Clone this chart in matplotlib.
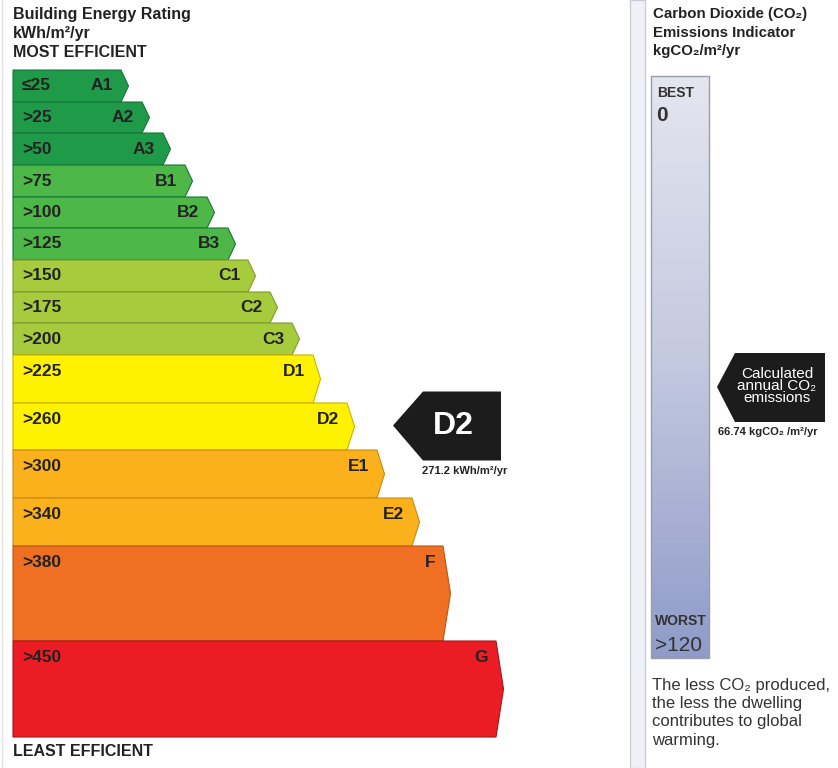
#!/usr/bin/env python3
"""Building Energy Rating (BER) label with CO2 emissions indicator."""

import numpy as np
import matplotlib
matplotlib.use("Agg")
import matplotlib.pyplot as plt
from matplotlib.patches import Polygon, Rectangle

plt.rcParams["font.family"] = ["Liberation Sans", "DejaVu Sans"]

# rating bands, top to bottom
bands = ["A1", "A2", "A3", "B1", "B2", "B3", "C1", "C2", "C3",
         "D1", "D2", "E1", "E2", "F", "G"]
ranges = ["\u226425", ">25", ">50", ">75", ">100", ">125", ">150", ">175", ">200",
          ">225", ">260", ">300", ">340", ">380", ">450"]
bar_end = [121, 142, 163, 185, 207, 228, 248, 270, 292,
           313, 347, 377, 412, 443, 496]
row_edges = [70, 102, 133, 165, 197, 228, 260, 292, 323,
             355, 403, 450, 498, 546, 641, 737]
band_colors = ["#1e9a48", "#1e9a48", "#1e9a48",
               "#4db748", "#4db748", "#4db748",
               "#a6cb3c", "#a6cb3c", "#a6cb3c",
               "#fff200", "#fff200",
               "#fbb11b", "#fbb11b",
               "#ef7023", "#ec1c24"]
edge_colors = ["#17753a"] * 6 + ["#7f9a2e"] * 3 + ["#c9b400"] * 2 + \
              ["#c98a14"] * 2 + ["#b8561a", "#a81419"]

rating = "D2"
energy_value = 271.2
co2_value = 66.74
co2_best = 0
co2_worst = 120

W, H = 838, 768
fig = plt.figure(figsize=(W / 100, H / 100), dpi=100)
ax = fig.add_axes([0, 0, 1, 1])
ax.set_xlim(0, W)
ax.set_ylim(H, 0)
ax.axis("off")

TXT = "#222222"
x0 = 13
tip = 7.5

# left headers
hdr = dict(fontsize=11.5, fontweight="bold", color=TXT)
ax.text(x0, 19, "Building Energy Rating", **hdr)
ax.text(x0, 38, "kWh/m\u00b2/yr", **hdr)
ax.text(x0, 57, "MOST EFFICIENT", **hdr)
ax.text(x0, 756, "LEAST EFFICIENT", **hdr)

# rating arrows
for i, name in enumerate(bands):
    top, bot = row_edges[i], row_edges[i + 1]
    mid = (top + bot) / 2
    xe = bar_end[i]
    poly = Polygon([(x0, top), (xe, top), (xe + tip, mid), (xe, bot), (x0, bot)],
                   closed=True, facecolor=band_colors[i], edgecolor=edge_colors[i],
                   linewidth=0.8)
    ax.add_patch(poly)
    ty = top + min((bot - top) / 2, 16.5)
    ax.text(22, ty, ranges[i], fontsize=12.5, fontweight="bold", color=TXT,
            va="center", ha="left")
    ax.text(xe - 8, ty, name, fontsize=12.5, fontweight="bold", color=TXT,
            va="center", ha="right")

# indicator for this building
ri = bands.index(rating)
cy = (row_edges[ri] + row_edges[ri + 1]) / 2 - 1
ind = Polygon([(393, cy), (423, cy - 34), (501, cy - 34), (501, cy + 35), (423, cy + 35)],
              closed=True, facecolor="#1c1c1c", edgecolor="none")
ax.add_patch(ind)
ax.text(453, cy + 1, rating, fontsize=23, fontweight="bold", color="white",
        ha="center", va="center")
ax.text(465, cy + 45, f"{energy_value} kWh/m\u00b2/yr", fontsize=8,
        fontweight="bold", color=TXT, ha="center", va="center")

# separator strip
ax.add_patch(Rectangle((630, 0), 15, H, facecolor="#eef1f8", edgecolor="#c9cbd2",
                       linewidth=0.9))
ax.plot([2, 2], [0, H], color="#e2e2e2", lw=1)

# right headers
rx = 653
ax.text(rx, 18, "Carbon Dioxide (CO\u2082)", fontsize=10.8, fontweight="bold", color=TXT)
ax.text(rx, 37, "Emissions Indicator", fontsize=10.8, fontweight="bold", color=TXT)
ax.text(rx, 55, "kgCO\u2082/m\u00b2/yr", fontsize=10.8, fontweight="bold", color=TXT)

# CO2 scale bar with gradient
bx0, bx1, by0, by1 = 651, 709, 76, 658
grad = np.linspace(0, 1, 256).reshape(-1, 1)
cmap = matplotlib.colors.LinearSegmentedColormap.from_list(
    "co2", ["#e4e6ef", "#c2c8df", "#8f9bc9"])
ax.imshow(grad, extent=[bx0, bx1, by1, by0], cmap=cmap, aspect="auto", zorder=1)
ax.add_patch(Rectangle((bx0, by0), bx1 - bx0, by1 - by0, facecolor="none",
                       edgecolor="#9a9ca6", linewidth=1.0, zorder=2))
ax.text(657, 97, "BEST", fontsize=10, fontweight="bold", color="#333333", zorder=3)
ax.text(656, 121, str(co2_best), fontsize=15, fontweight="bold", color="#333333", zorder=3)
ax.text(655, 625, "WORST", fontsize=10, fontweight="bold", color="#333333", zorder=3)
ax.text(655, 651, f">{co2_worst}", fontsize=15, color="#333333", zorder=3)

# CO2 pointer
py = 387
ptr = Polygon([(717, py), (735, py - 34), (825, py - 34), (825, py + 35), (735, py + 35)],
              closed=True, facecolor="#1c1c1c", edgecolor="none", zorder=3)
ax.add_patch(ptr)
ax.text(777, py - 1, "Calculated\nannual CO\u2082\nemissions", fontsize=11,
        color="white", ha="center", va="center", linespacing=0.85, zorder=4)
ax.text(768, py + 45, f"{co2_value} kgCO\u2082 /m\u00b2/yr", fontsize=8,
        fontweight="bold", color=TXT, ha="center", va="center", zorder=4)

# footnote
ax.text(652, 678, "The less CO\u2082 produced,\nthe less the dwelling\n"
        "contributes to global\nwarming.", fontsize=12, color="#333333",
        va="top", ha="left", linespacing=1.27)

fig.savefig("out.png", dpi=100)
